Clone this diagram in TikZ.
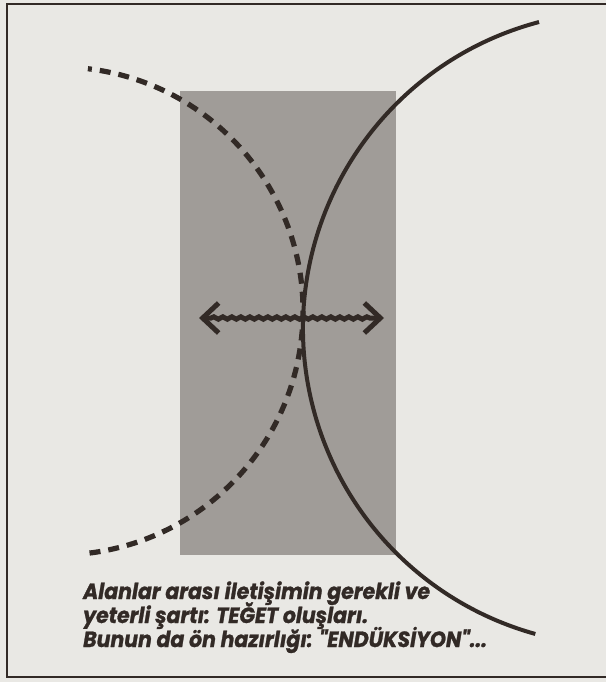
\documentclass[tikz,border=0pt]{standalone}
\usepackage{fontspec}
\setmainfont{Poppins}
\newfontfamily\capfont[FakeStretch=0.93,FakeBold=1.2]{Poppins}
\usetikzlibrary{arrows.meta,decorations.pathmorphing}
\definecolor{paper}{RGB}{233,232,228}
\definecolor{fieldgray}{RGB}{160,156,152}
\definecolor{ink}{RGB}{50,42,38}
\tikzset{
  frameline/.style={draw=ink, line width=1.8pt},
  solidarc/.style={draw=ink, line width=4pt},
  dasharc/.style={draw=ink, line width=5.2pt, dash pattern=on 11pt off 8pt, dash phase=7pt},
  caption/.style={anchor=base west, inner sep=0pt, text=ink, font=\capfont\fontsize{22}{24}\selectfont\bfseries\itshape},
}
\begin{document}
\begin{tikzpicture}[x=1pt,y=-1pt]
\fill[paper] (0,0) rectangle (606,682);
\useasboundingbox (0,0) rectangle (606,682);
% frame
\draw[frameline] (606,4) -- (7,4) -- (7,677) -- (606,677);
% shaded field
\fill[fieldgray] (180,91) rectangle (396,555);
% solid arc (circle centre 620,328.5 r 317)
\draw[solidarc] (620,328.5) ++(-104.8:317) arc[start angle=-104.8, end angle=-254.5, radius=317];
% dashed arc (circle centre 59,311 r 244)
\draw[dasharc] (59,311) ++(-83.2:244) arc[start angle=-83.2, end angle=84.3, radius=244];
% double arrow
\coordinate (al) at (199,318);
\coordinate (ar) at (384,318);
\draw[draw=ink, line width=5pt, {Straight Barb[length=16pt,width=30pt]}-{Straight Barb[length=16pt,width=30pt]},
  decorate, decoration={snake, amplitude=1.2pt, segment length=9pt, pre length=12pt, post length=12pt}] (al) -- (ar);
% caption
\node[caption] (t1) at (83,599) {Alanlar arası iletişimin gerekli ve};
\node[caption] (t2) at (83,623) {yeterli şartı: TEĞET oluşları.};
\node[caption] (t3) at (83,647) {Bunun da ön hazırlığı: "ENDÜKSİYON"...};
\end{tikzpicture}
\end{document}
